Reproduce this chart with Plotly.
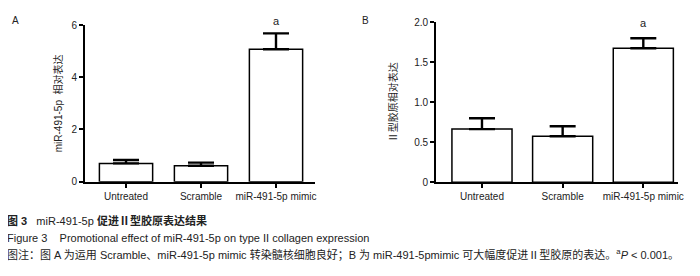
import plotly.graph_objects as go

categories = ["Untreated", "Scramble", "miR-491-5p mimic"]
a_values = [0.70, 0.61, 5.07]
a_errors = [0.13, 0.12, 0.61]
b_values = [0.665, 0.575, 1.675]
b_errors = [0.135, 0.125, 0.125]
a_yticks = [0, 2, 4, 6]
b_yticks = [0, 0.5, 1.0, 1.5, 2.0]
b_yticklabels = ["0", "0.5", "1.0", "1.5", "2.0"]

FONT = "Liberation Sans, Arial, Noto Sans CJK SC"
TXT = "#222"
OFF = 8  # page body margin
W, H = 700 - OFF, 276 - OFF

fig = go.Figure()

def bar(vals, errs, xa, ya, width):
    return go.Bar(
        x=categories, y=vals, xaxis=xa, yaxis=ya, width=width,
        marker=dict(color="white", line=dict(color="black", width=1.5)),
        error_y=dict(type="data", symmetric=False, array=errs,
                     arrayminus=[0] * len(errs), color="black",
                     thickness=2.4, width=13),
        showlegend=False,
    )

fig.add_trace(bar(a_values, a_errors, "x", "y", 0.71))
fig.add_trace(bar(b_values, b_errors, "x2", "y2", 0.745))

def px(x):
    return (x - OFF) / W

def py(y):
    return 1 - (y - OFF) / H

axis_common = dict(showline=True, linecolor="black", linewidth=1.8,
                   ticks="outside", ticklen=4, tickwidth=1.5, tickcolor="black",
                   showgrid=False, zeroline=False, automargin=False,
                   tickfont=dict(family=FONT, size=10, color=TXT))

fig.update_layout(
    template="none",
    width=W, height=H, margin=dict(l=0, r=0, t=0, b=0, pad=0),
    paper_bgcolor="white", plot_bgcolor="white",
    font=dict(family=FONT, size=10, color=TXT),
    xaxis=dict(domain=[px(85), px(315)], range=[-0.547, 2.52], anchor="y",
               type="category", **axis_common),
    yaxis=dict(domain=[py(181.7), py(25)], range=[0, 6], anchor="x",
               tickvals=a_yticks,
               title=dict(text="miR-491-5p  相对表达", standoff=7,
                          font=dict(family=FONT, size=10, color=TXT)),
               **axis_common),
    xaxis2=dict(domain=[px(436), px(678)], range=[-0.57, 2.43], anchor="y2",
                type="category", **axis_common),
    yaxis2=dict(domain=[py(182.3), py(22.3)], range=[0, 2], anchor="x2",
                tickvals=b_yticks, ticktext=b_yticklabels,
                title=dict(text="Ⅱ型胶原相对表达", standoff=15,
                           font=dict(family=FONT, size=10, color=TXT)),
                **axis_common),
)

ann = []
ann.append(dict(text="A", x=px(15), y=py(20), xref="paper", yref="paper",
                xanchor="center", yanchor="middle",
                showarrow=False, font=dict(family=FONT, size=10, color=TXT)))
ann.append(dict(text="B", x=px(365), y=py(20), xref="paper", yref="paper",
                xanchor="center", yanchor="middle",
                showarrow=False, font=dict(family=FONT, size=10, color=TXT)))
ann.append(dict(text="a", x=categories[2], y=a_values[2] + a_errors[2], xref="x", yref="y",
                yshift=12, yanchor="middle", showarrow=False,
                font=dict(family=FONT, size=11, color=TXT)))
ann.append(dict(text="a", x=categories[2], y=b_values[2] + b_errors[2], xref="x2", yref="y2",
                yshift=15, yanchor="middle", showarrow=False,
                font=dict(family=FONT, size=11, color=TXT)))

captions = [
    ("<b>图 3</b>   miR-491-5p <b>促进Ⅱ型胶原表达结果</b>", 220),
    ("Figure 3    Promotional effect of miR-491-5p on type II collagen expression", 238),
    ("图注：图 A 为运用 Scramble、miR-491-5p mimic 转染髓核细胞良好；B 为 miR-491-5pmimic 可大幅度促进Ⅱ型胶原的表达。<sup>a</sup><i>P</i> &lt; 0.001。", 254),
]
for t, y in captions:
    ann.append(dict(text=t, x=px(5), y=py(y), xref="paper", yref="paper",
                    xanchor="left", yanchor="middle", showarrow=False,
                    font=dict(family=FONT, size=11, color=TXT)))
fig.update_layout(annotations=ann)

fig.write_html("out.html")
